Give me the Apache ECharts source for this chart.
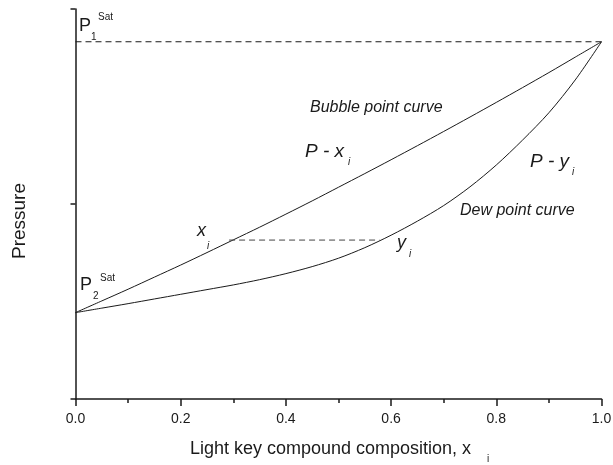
<!DOCTYPE html>
<html>
<head>
<meta charset="utf-8">
<script src="https://cdn.jsdelivr.net/npm/echarts@6/dist/echarts.min.js"></script>
<style>html,body{margin:0;padding:0;background:#fff}#c{width:613px;height:465px}</style>
</head>
<body>
<div id="c"></div>
<script>
// composition values (light key mole fraction)
const compositions = [0, 0.05, 0.1, 0.15, 0.2, 0.25, 0.3, 0.35, 0.4, 0.45, 0.5,
                      0.55, 0.6, 0.65, 0.7, 0.75, 0.8, 0.85, 0.9, 0.95, 1.0];
// bubble point curve P - x (arbitrary pressure units)
const bubblePressure = [0.443, 0.503, 0.563, 0.625, 0.687, 0.751, 0.816, 0.881, 0.948, 1.016, 1.086,
                        1.156, 1.227, 1.299, 1.372, 1.446, 1.521, 1.597, 1.674, 1.753, 1.832];
// dew point curve P - y
const dewPressure = [0.443, 0.466, 0.489, 0.513, 0.537, 0.561, 0.585, 0.612, 0.643, 0.679, 0.722,
                     0.776, 0.840, 0.912, 0.992, 1.088, 1.200, 1.328, 1.468, 1.636, 1.832];
// saturation pressure line (P1 sat)
const p1SatLine = [[0, 1.832], [1, 1.832]];
// equilibrium tie line x_i -> y_i
const tieLine = [[0.292, 0.815], [0.578, 0.815]];
const xTicks = ['0.0', '0.2', '0.4', '0.6', '0.8', '1.0'];

const chart = echarts.init(document.getElementById('c'), null, {renderer: 'canvas', width: 613, height: 465});
const FONT = '"Liberation Sans", Arial, sans-serif';
const ink = '#1a1a1a';

function txt(x, y, s, size, italic) {
  return {
    type: 'text', left: x, top: y,
    style: {text: s, fill: ink, font: (italic ? 'italic ' : '') + size + 'px ' + FONT}
  };
}

chart.setOption({
  animation: false,
  backgroundColor: '#fff',
  grid: {left: 75.5, right: 11.5, top: 9, bottom: 66, containLabel: false, outerBoundsMode: 'none'},
  xAxis: {
    type: 'value', min: 0, max: 1, interval: 0.2,
    axisLine: {show: true, onZero: false, lineStyle: {color: ink, width: 1.5}},
    axisTick: {show: true, inside: false, length: 7, lineStyle: {color: ink, width: 1.5}},
    minorTick: {show: true, splitNumber: 2, length: 4, lineStyle: {color: ink, width: 1.5}},
    splitLine: {show: false},
    axisLabel: {
      color: ink, fontSize: 14, fontFamily: FONT, margin: 13,
      formatter: function (v) { const i = Math.round(v / 0.2); return xTicks[i] !== undefined ? xTicks[i] : ''; }
    },
    name: 'Light key compound composition, x',
    nameLocation: 'middle', nameGap: 41,
    nameTextStyle: {color: ink, fontSize: 18, fontFamily: FONT, padding: [0, 16, 0, 0]}
  },
  yAxis: {
    type: 'value', min: 0, max: 2, interval: 1,
    axisLine: {show: true, onZero: false, lineStyle: {color: ink, width: 1.5}},
    axisTick: {show: true, inside: false, length: 5, lineStyle: {color: ink, width: 1.5}},
    axisLabel: {show: false},
    splitLine: {show: false},
    name: 'Pressure', nameLocation: 'middle', nameGap: 46, nameRotate: 90,
    nameTextStyle: {color: ink, fontSize: 19, fontFamily: FONT, padding: [0, 34, 0, 0]}
  },
  series: [
    {
      type: 'line', name: 'bubble', smooth: 0.3, symbol: 'none',
      data: compositions.map((x, i) => [x, bubblePressure[i]]),
      lineStyle: {color: ink, width: 1}
    },
    {
      type: 'line', name: 'dew', smooth: 0.3, symbol: 'none',
      data: compositions.map((x, i) => [x, dewPressure[i]]),
      lineStyle: {color: ink, width: 1}
    },
    {
      type: 'line', name: 'p1sat', symbol: 'none', data: p1SatLine,
      lineStyle: {color: ink, width: 1, type: [6, 4]}
    },
    {
      type: 'line', name: 'tie', symbol: 'none', data: tieLine,
      lineStyle: {color: '#444', width: 1, type: [6, 4]}
    }
  ],
  graphic: [
    txt(487, 454, 'i', 10, false),
    txt(79, 17, 'P', 18, false),
    txt(91, 32, '1', 10, false),
    txt(98, 12, 'Sat', 10, false),
    txt(80, 276, 'P', 18, false),
    txt(93, 291, '2', 10, false),
    txt(100, 273, 'Sat', 10, false),
    txt(310, 100, 'Bubble point curve', 16, true),
    txt(305, 142, 'P - x', 19, true),
    txt(348, 157, 'i', 10, true),
    txt(530, 152, 'P - y', 19, true),
    txt(572, 167, 'i', 10, true),
    txt(460, 203, 'Dew point curve', 16, true),
    txt(197, 222, 'x', 18, true),
    txt(207, 241, 'i', 10, true),
    txt(397, 234, 'y', 18, true),
    txt(409, 249, 'i', 10, true)
  ]
});
</script>
</body>
</html>
